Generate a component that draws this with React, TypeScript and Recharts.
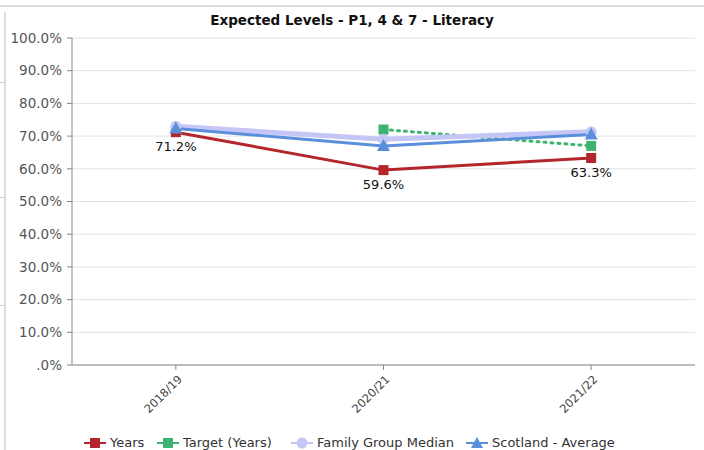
import React from "react";
import {
  LineChart,
  Line,
  XAxis,
  YAxis,
  CartesianGrid,
} from "recharts";

const years = ["2018/19", "2020/21", "2021/22"];
const yearsValues = [71.2, 59.6, 63.3];
const targetValues: (number | null)[] = [null, 72.0, 67.0];
const medianValues = [73.0, 69.0, 71.3];
const scotlandValues = [72.3, 67.0, 70.5];
const yTicks = [0, 10, 20, 30, 40, 50, 60, 70, 80, 90, 100];

const data = years.map((year, i) => ({
  year,
  years: yearsValues[i],
  target: targetValues[i],
  median: medianValues[i],
  scotland: scotlandValues[i],
}));

const RED = "#b3262b";
const GREEN = "#3cb371";
const LAVENDER = "#c6c6f6";
const BLUE = "#5b8fdc";
const FONT = "'DejaVu Sans', Verdana, sans-serif";

const squareDot = (color: string) => (props: any) => {
  const { cx, cy, index } = props;
  if (cx == null || cy == null || props.value == null) return <g key={index} />;
  return <rect key={index} x={cx - 5} y={cy - 5} width={10} height={10} fill={color} />;
};

const circleDot = (props: any) => {
  const { cx, cy, index } = props;
  if (cx == null || cy == null) return <g key={index} />;
  return <circle key={index} cx={cx} cy={cy} r={5.5} fill={LAVENDER} />;
};

const triangleDot = (props: any) => {
  const { cx, cy, index } = props;
  if (cx == null || cy == null) return <g key={index} />;
  return (
    <polygon
      key={index}
      points={`${cx},${cy - 7} ${cx + 6.5},${cy + 5} ${cx - 6.5},${cy + 5}`}
      fill={BLUE}
    />
  );
};

const valueLabel = (props: any) => {
  const { x, y, value, index } = props;
  return (
    <text key={index} x={x} y={y + 19} textAnchor="middle" fontSize={13} fontFamily={FONT} fill="#111">
      {value.toFixed(1)}%
    </text>
  );
};

const XTick = (props: any) => {
  const { x, y, payload } = props;
  return (
    <text
      transform={`translate(${x + 7},${y + 8}) rotate(-45)`}
      textAnchor="end"
      fontSize={11.5}
      fontFamily={FONT}
      fill="#444"
    >
      {payload.value}
    </text>
  );
};

// legend slots: where each icon starts
const legendItems = [
  { name: "Years", color: RED, shape: "square", left: 84 },
  { name: "Target (Years)", color: GREEN, shape: "square", left: 157 },
  { name: "Family Group Median", color: LAVENDER, shape: "circle", left: 291 },
  { name: "Scotland - Average", color: BLUE, shape: "triangle", left: 466 },
];

function LegendIcon({ color, shape }: { color: string; shape: string }) {
  return (
    <svg width={22} height={12} style={{ marginRight: 4 }}>
      <line x1={0} y1={6} x2={22} y2={6} stroke={color} strokeWidth={2} />
      {shape === "square" && <rect x={6} y={1} width={10} height={10} fill={color} />}
      {shape === "circle" && <circle cx={11} cy={6} r={5.5} fill={color} />}
      {shape === "triangle" && <polygon points="11,0 17,11 5,11" fill={color} />}
    </svg>
  );
}

export default function App() {
  return (
    <div style={{ position: "absolute", left: 0, top: 0, width: 704, height: 450, background: "#fff", fontFamily: FONT }}>
      {/* frame bits */}
      <div style={{ position: "absolute", left: 0, top: 5, width: 704, height: 2, background: "#dcdcdc" }} />
      <div style={{ position: "absolute", left: 4, top: 12, width: 2, height: 438, background: "#dcdcdc" }} />
      {[82, 197, 305].map((t) => (
        <div key={t} style={{ position: "absolute", left: 0, top: t, width: 5, height: 1, background: "#cfcfcf" }} />
      ))}
      <div
        style={{
          position: "absolute",
          left: 0,
          top: 12,
          width: 704,
          textAlign: "center",
          fontFamily: FONT,
          fontWeight: "bold",
          fontSize: 13.5,
          color: "#111",
        }}
      >
        Expected Levels - P1, 4 &amp; 7 - Literacy
      </div>
      <div style={{ position: "absolute", left: 0, top: 0 }}>
        <LineChart width={704} height={450} data={data} margin={{ top: 38, right: 9, left: 0, bottom: 0 }}>
          <CartesianGrid vertical={false} stroke="#e2e2e2" />
          <XAxis
            dataKey="year"
            scale="band"
            height={85}
            tick={<XTick />}
            tickLine={{ stroke: "#888" }}
            axisLine={{ stroke: "#888" }}
            tickSize={5}
            interval={0}
          />
          <YAxis
            width={72}
            domain={[0, 100]}
            ticks={yTicks}
            tickFormatter={(v: number) => (v === 0 ? ".0%" : `${v.toFixed(1)}%`)}
            tick={{ fontSize: 13.5, fill: "#555", fontFamily: FONT }}
            tickLine={{ stroke: "#888" }}
            axisLine={{ stroke: "#888" }}
            tickSize={5}
            tickMargin={5}
            interval={0}
          />
          <Line
            dataKey="years"
            stroke={RED}
            strokeWidth={3}
            dot={squareDot(RED)}
            activeDot={false}
            label={valueLabel}
            isAnimationActive={false}
          />
          <Line
            dataKey="target"
            stroke={GREEN}
            strokeWidth={3}
            strokeDasharray="2 5"
            strokeLinecap="round"
            dot={squareDot(GREEN)}
            activeDot={false}
            isAnimationActive={false}
          />
          <Line
            dataKey="median"
            stroke={LAVENDER}
            strokeWidth={5}
            dot={circleDot}
            activeDot={false}
            isAnimationActive={false}
          />
          <Line
            dataKey="scotland"
            stroke={BLUE}
            strokeWidth={3}
            dot={triangleDot}
            activeDot={false}
            isAnimationActive={false}
          />
        </LineChart>
      </div>
      {legendItems.map((it) => (
        <div
          key={it.name}
          style={{
            position: "absolute",
            left: it.left,
            top: 435,
            display: "flex",
            alignItems: "center",
            fontSize: 13,
            color: "#333",
            whiteSpace: "nowrap",
          }}
        >
          <LegendIcon color={it.color} shape={it.shape} />
          <span>{it.name}</span>
        </div>
      ))}
    </div>
  );
}
